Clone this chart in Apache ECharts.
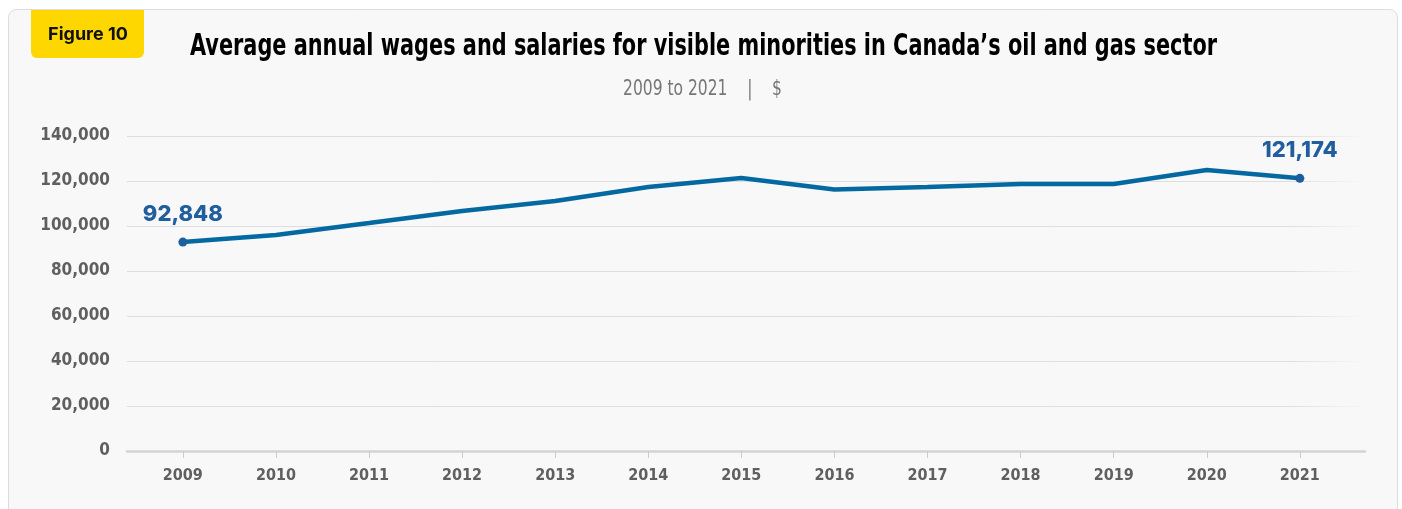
<!DOCTYPE html>
<html>
<head>
<meta charset="utf-8">
<title>Figure 10</title>
<script src="https://cdn.jsdelivr.net/npm/echarts@6/dist/echarts.min.js"></script>
<style>
  html, body { margin: 0; padding: 0; background: #ffffff; }
  #chart { width: 1402px; height: 509px; }
</style>
</head>
<body>
<div id="chart"></div>
<script>
// data
var years = [2009, 2010, 2011, 2012, 2013, 2014, 2015, 2016, 2017, 2018, 2019, 2020, 2021];
var wages = [92848, 96000, 101300, 106700, 111100, 117300, 121300, 116200, 117300, 118700, 118700, 124900, 121174];
var yTicks = [0, 20000, 40000, 60000, 80000, 100000, 120000, 140000];

var titleText = 'Average annual wages and salaries for visible minorities in Canada\u2019s oil and gas sector';
var subText = '2009 to 2021    |    $';

var narrow = '"Liberation Sans Narrow", "DejaVu Sans Condensed", sans-serif';

// squeeze text to the width it has in the figure
function fitScale(text, font, width) {
    var ctx = document.createElement('canvas').getContext('2d');
    ctx.font = font;
    return width / ctx.measureText(text).width;
}
var titleFont = 'bold 31px ' + narrow;
var subFont = '22px ' + narrow;

var myChart = echarts.init(document.getElementById('chart'));

var last = years.length - 1;
var points = years.map(function (y, i) {
    var item = { value: [y, wages[i]] };
    if (i === 0 || i === last) {
        item.label = { show: true };
    }
    return item;
});

var option = {
    animation: false,
    backgroundColor: '#ffffff',
    graphic: [
        {
            type: 'rect', z: -10, silent: true,
            shape: { x: 8.5, y: 9.5, width: 1389, height: 530, r: 8 },
            style: { fill: '#f8f8f8', stroke: '#dddddd', lineWidth: 1 }
        },
        {
            type: 'rect', z: -5, silent: true,
            shape: { x: 31, y: 10, width: 113, height: 48, r: [0, 0, 6, 6] },
            style: { fill: '#fed700' }
        },
        {
            type: 'text', x: 88, y: 35,
            style: {
                text: 'Figure 10', fill: '#111111',
                font: 'bold 18px Inter, sans-serif',
                align: 'center', verticalAlign: 'middle'
            }
        },
        {
            type: 'text', x: 703.5, y: 47,
            scaleX: fitScale(titleText, titleFont, 1027),
            style: {
                text: titleText, fill: '#000000', font: titleFont,
                align: 'center', verticalAlign: 'middle'
            }
        },
        {
            type: 'text', x: 702.5, y: 89,
            scaleX: fitScale(subText, subFont, 159),
            style: {
                text: subText, fill: '#777777', font: subFont,
                align: 'center', verticalAlign: 'middle'
            }
        }
    ],
    grid: {
        left: 127,
        right: 37,
        top: 136,
        bottom: 58
    },
    xAxis: {
        type: 'value',
        min: 2008.4,
        max: 2021.7,
        axisLine: {
            show: true,
            onZero: false,
            lineStyle: { color: '#d4d4d4', width: 2.5 }
        },
        axisTick: {
            show: true,
            customValues: years,
            length: 7,
            lineStyle: { color: '#cccccc', width: 1 }
        },
        axisLabel: {
            customValues: years,
            margin: 17,
            color: '#5f5f5f',
            fontFamily: narrow,
            fontWeight: 'bold',
            fontSize: 16,
            formatter: function (v) { return String(v); }
        },
        splitLine: { show: false }
    },
    yAxis: {
        type: 'value',
        min: yTicks[0],
        max: yTicks[yTicks.length - 1],
        interval: yTicks[1] - yTicks[0],
        axisLine: { show: false },
        axisTick: { show: false },
        axisLabel: {
            margin: 17,
            color: '#5f5f5f',
            fontFamily: narrow,
            fontWeight: 'bold',
            fontSize: 17,
            formatter: function (v) { return echarts.format.addCommas(v); }
        },
        splitLine: {
            lineStyle: {
                width: 1,
                color: {
                    type: 'linear', x: 1290, y: 0, x2: 1365, y2: 0, global: true,
                    colorStops: [
                        { offset: 0, color: '#dedede' },
                        { offset: 1, color: 'rgba(222,222,222,0)' }
                    ]
                }
            }
        }
    },
    series: [
        {
            type: 'line',
            data: points,
            symbol: 'circle',
            symbolSize: function (v, p) {
                return (p.dataIndex === 0 || p.dataIndex === last) ? 9 : 0;
            },
            lineStyle: { color: '#0569a1', width: 4.5 },
            itemStyle: { color: '#1d5f9e' },
            label: {
                show: false,
                position: 'top',
                distance: 12,
                color: '#215e9e',
                fontFamily: 'Inter, sans-serif',
                fontWeight: 800,
                fontSize: 22,
                formatter: function (p) { return echarts.format.addCommas(p.value[1]); }
            }
        }
    ]
};

myChart.setOption(option);
</script>
</body>
</html>
